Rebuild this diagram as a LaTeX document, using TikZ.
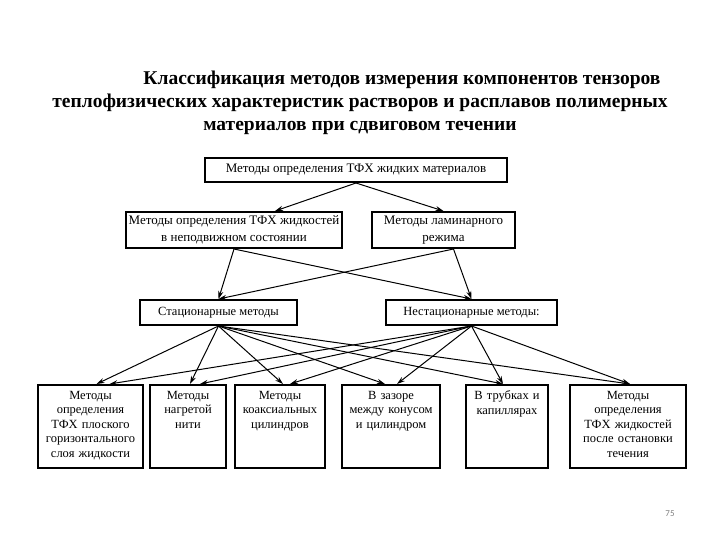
\documentclass[tikz,border=0pt]{standalone}
\usepackage{fontspec}
\setmainfont{Liberation Serif}
\newfontfamily\numfont{Carlito}
\usepackage{tikz}
\usetikzlibrary{arrows.meta}
\newcommand{\toptext}[1]{\parbox[t][71pt][t]{\linewidth}{\centering #1}}

\begin{document}
\begin{tikzpicture}[
  x=1pt, y=-1pt,
  box/.style={rectangle, draw, line width=2pt, align=center,
              font=\fontsize{13}{17}\selectfont, inner sep=2pt},
  leaf/.style={box, anchor=north, minimum height=83pt,
               font=\fontsize{12.5}{14.5}\selectfont},
  arrow/.style={-{Stealth[length=8pt,width=5pt]}, line width=1pt}
]
\useasboundingbox (0,0) rectangle (720,540);

% title
\node[align=center, font=\fontsize{19.5}{23}\selectfont\bfseries] (title) at (360,103)
  {\hspace*{84pt}Классификация методов измерения компонентов тензоров\\
   теплофизических характеристик растворов и расплавов полимерных\\
   материалов при сдвиговом течении};

% levels 1-3
\node[box, minimum width=302pt, minimum height=24pt] (tfx) at (356,170)
  {Методы определения ТФХ жидких материалов};
\node[box, minimum width=216pt, minimum height=36pt] (still) at (234,230)
  {Методы определения ТФХ жидкостей\\в неподвижном состоянии};
\node[box, minimum width=143pt, minimum height=36pt] (laminar) at (443.5,230)
  {Методы ламинарного\\режима};
\node[box, minimum width=157pt, minimum height=25pt, font=\fontsize{12.5}{15}\selectfont]
  (stat) at (218.5,312.5) {Стационарные методы};
\node[box, minimum width=171pt, minimum height=25pt, font=\fontsize{12.5}{15}\selectfont]
  (nonstat) at (471.5,312.5) {Нестационарные методы:};

% level 4
\node[leaf, minimum width=105pt, text width=101pt] (plane) at (90.5,384)
  {\toptext{Методы\\определения\\ТФХ плоского\\горизонтального\\слоя жидкости}};
\node[leaf, minimum width=76pt, text width=72pt] (wire) at (188,384)
  {\toptext{Методы\\нагретой\\нити}};
\node[leaf, minimum width=90pt, text width=86pt] (coax) at (280,384)
  {\toptext{Методы\\коаксиальных\\цилиндров}};
\node[leaf, minimum width=98pt, text width=94pt] (cone) at (391,384)
  {\toptext{В зазоре\\между конусом\\и цилиндром}};
\node[leaf, minimum width=82pt, text width=78pt] (tube) at (507,384)
  {\toptext{В трубках и\\капиллярах}};
\node[leaf, minimum width=116pt, text width=112pt] (stop) at (628,384)
  {\toptext{Методы\\определения\\ТФХ жидкостей\\после остановки\\течения}};

\draw[arrow] (tfx.south) -- ([xshift=41pt]still.north);
\draw[arrow] (tfx.south) -- (laminar.north);

\draw[arrow] (still.south) -- (stat.north);
\draw[arrow] (still.south) -- (nonstat.north);
\draw[arrow] ([xshift=10pt]laminar.south) -- (stat.north);
\draw[arrow] ([xshift=10pt]laminar.south) -- (nonstat.north);

\draw[arrow] (stat.south) -- ([xshift=6pt]plane.north);
\draw[arrow] (stat.south) -- ([xshift=2pt]wire.north);
\draw[arrow] (stat.south) -- ([xshift=3pt]coax.north);
\draw[arrow] (stat.south) -- ([xshift=-6pt]cone.north);
\draw[arrow] (stat.south) -- ([xshift=-4pt]tube.north);
\draw[arrow] (stat.south) -- ([xshift=2pt]stop.north);
\draw[arrow] (nonstat.south) -- ([xshift=19pt]plane.north);
\draw[arrow] (nonstat.south) -- ([xshift=12pt]wire.north);
\draw[arrow] (nonstat.south) -- ([xshift=10pt]coax.north);
\draw[arrow] (nonstat.south) -- ([xshift=6pt]cone.north);
\draw[arrow] (nonstat.south) -- ([xshift=-4pt]tube.north);
\draw[arrow] (nonstat.south) -- ([xshift=2pt]stop.north);

% page number
\node[font=\numfont\fontsize{9}{10}\selectfont, text=gray] (page) at (670,514) {75};

\end{tikzpicture}
\end{document}
